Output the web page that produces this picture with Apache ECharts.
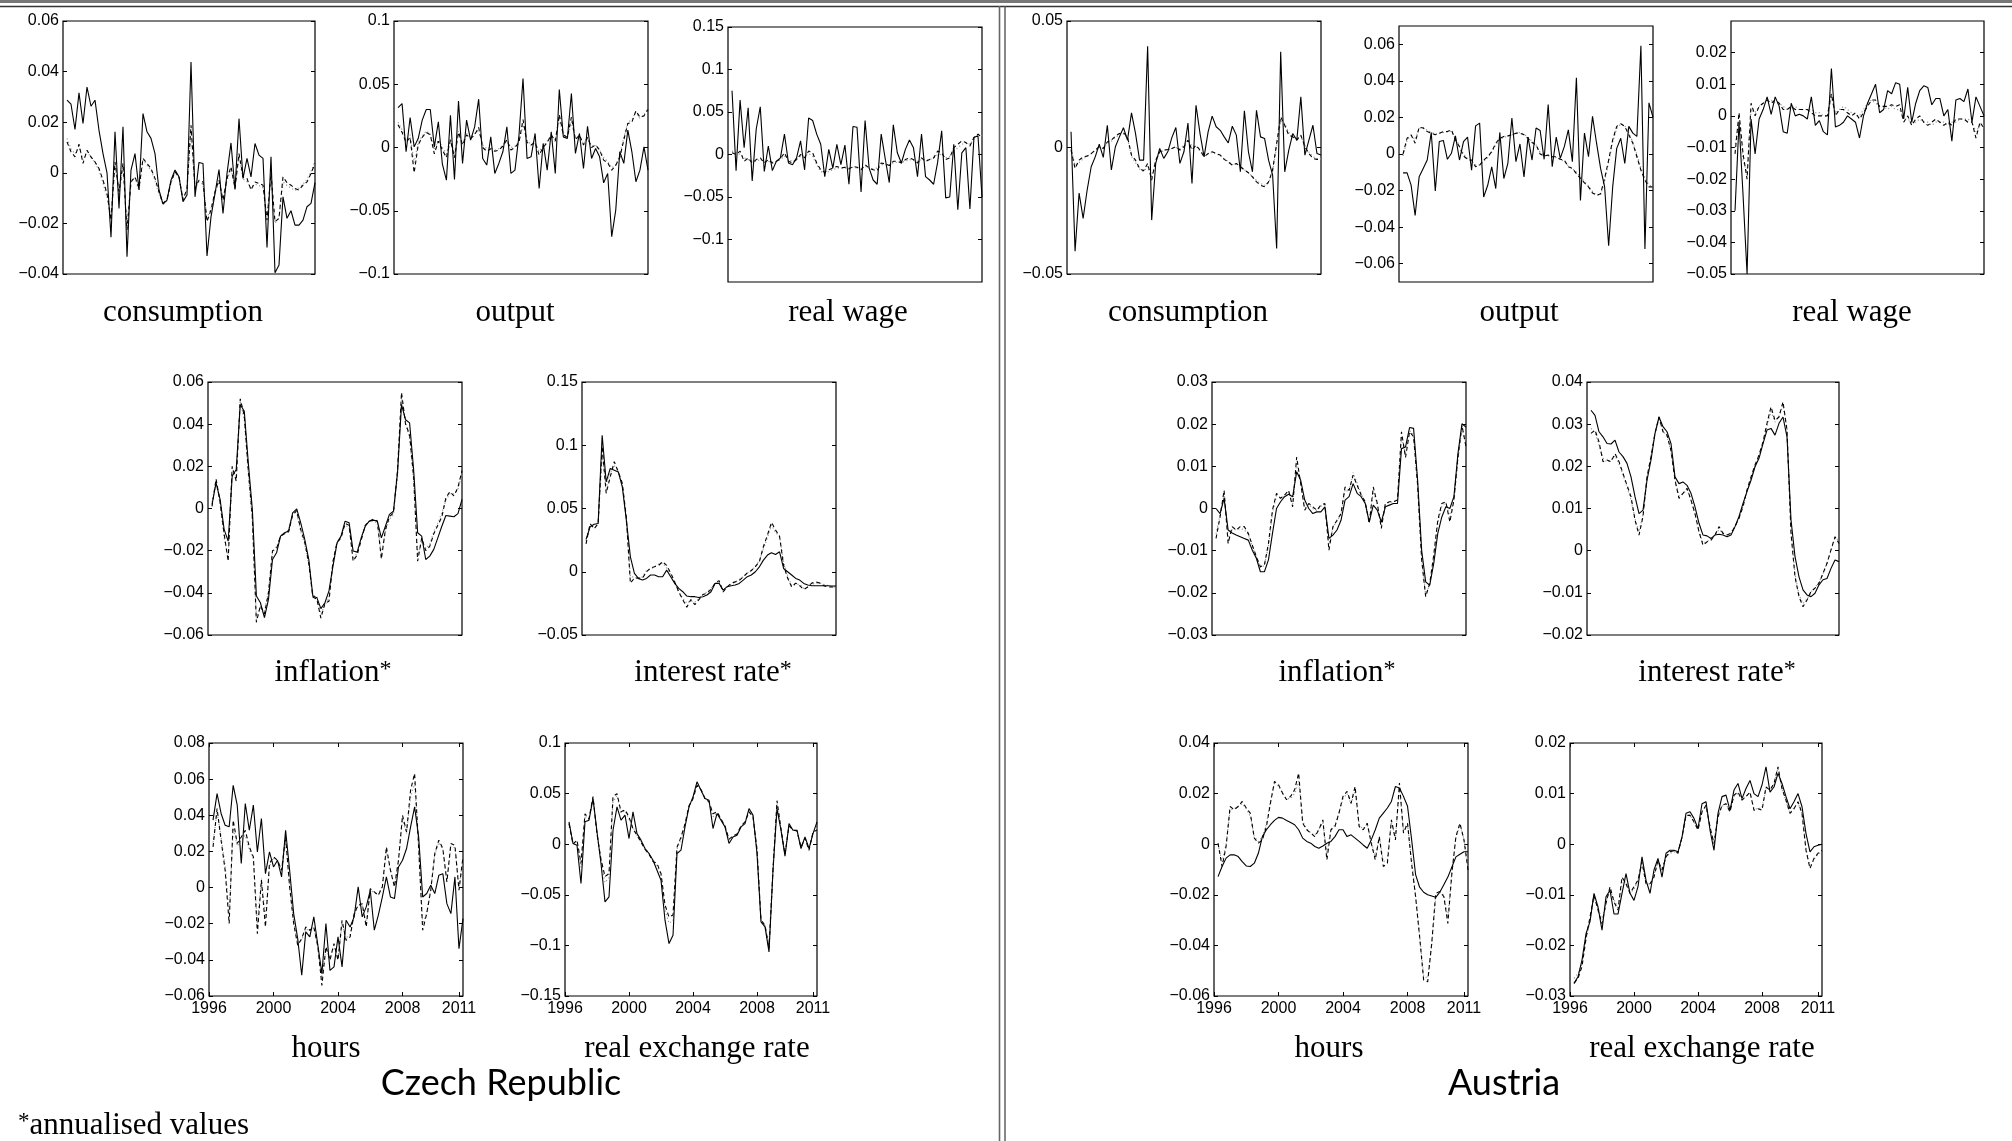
<!DOCTYPE html>
<html>
<head>
<meta charset="utf-8">
<script src="https://cdn.jsdelivr.net/npm/echarts@6/dist/echarts.min.js"></script>
<style>
  html, body { margin: 0; padding: 0; background: #fff; }
  #chart { width: 2012px; height: 1141px; }
</style>
</head>
<body>
<div id="chart"></div>
<script>
// ---- time axis: quarterly observations 1996Q2 .. 2011Q4 ----
const quarters = [];
for (let y = 1996; y <= 2011; y++) {
  for (let q = 1; q <= 4; q++) {
    if (y === 1996 && q === 1) continue;
    quarters.push(y + '-Q' + q);
  }
}
const quarterTime = quarters.map(s => { const p = s.split('-Q'); return +p[0] + (+p[1] - 1) / 4; });
const yearTicks = [1996, 2000, 2004, 2008, 2011.5];
const yearLabels = ['1996', '2000', '2004', '2008', '2011'];

// ---- Czech Republic ----
const czConsObs = [0.0287,0.0271,0.0171,0.0316,0.0195,0.0339,0.0263,0.0287,0.0168,0.0076,0,-0.0255,0.0162,-0.0141,0.0182,-0.0332,0.0011,0.0076,-0.0068,0.0234,0.0162,0.0136,0.0076,-0.0068,-0.0124,-0.0108,-0.0029,0.0011,-0.0016,-0.0114,-0.0088,0.0438,-0.0095,0.0041,0.0037,-0.0329,-0.0174,-0.0082,0.0013,-0.0161,-0.0003,0.0118,-0.0066,0.0214,-0.0022,0.0057,-0.0016,0.0116,0.0070,0.0057,-0.0295,0.0063,-0.0395,-0.0364,-0.0095,-0.0180,-0.0150,-0.0207,-0.0207,-0.0187,-0.0134,-0.0121,-0.0039];
const czConsFitA = [0.0122,0.0083,0.0063,0.0113,0.0037,0.0089,0.0063,0.0043,0.0017,-0.0029,-0.0082,-0.0187,0.0043,-0.0075,0.0037,-0.0226,-0.0036,-0.0016,-0.0062,0.0057,0.0037,0.0017,-0.0022,-0.0075,-0.0121,-0.0105,-0.0036,0.0004,-0.0016,-0.0108,-0.0062,0.0188,-0.0062,-0.0029,-0.0036,-0.0193,-0.0147,-0.0075,-0.0029,-0.0108,-0.0022,0.0024,-0.0062,0.0076,-0.0016,-0.0022,-0.0068,-0.0036,-0.0042,-0.0049,-0.0187,-0.0003,-0.0193,-0.0180,-0.0016,-0.0039,-0.0049,-0.0062,-0.0068,-0.0049,-0.0036,-0.0003,0.0037];
const czConsFitB = [0.0136,0.0095,0.0075,0.0105,0.0050,0.0085,0.0060,0.0040,0.0010,-0.0040,-0.0095,-0.0170,0.0035,-0.0090,0.0025,-0.0215,-0.0030,-0.0020,-0.0070,0.0050,0.0030,0.0010,-0.0030,-0.0085,-0.0125,-0.0110,-0.0040,0.0000,-0.0020,-0.0100,-0.0070,0.0165,-0.0070,-0.0035,-0.0045,-0.0180,-0.0140,-0.0080,-0.0035,-0.0100,-0.0030,0.0015,-0.0055,0.0065,-0.0025,-0.0035,-0.0060,-0.0045,-0.0050,-0.0060,-0.0175,-0.0015,-0.0200,-0.0175,-0.0035,-0.0050,-0.0060,-0.0070,-0.0060,-0.0045,-0.0025,0.0005,0.0045];

const czOutObs = [0.0316,0.0347,-0.0034,0.0237,0.0005,0.0071,0.0216,0.0300,0.0300,0.0005,0.0203,-0.0132,-0.0258,0.0255,-0.0253,0.0368,-0.0126,0.0216,0.0058,0.0163,0.0382,-0.0087,-0.0139,0.0084,-0.0205,-0.0126,-0.0034,0.0163,-0.0205,-0.0179,0.0097,0.0545,-0.0087,-0.0074,0.0111,-0.0324,0.0032,-0.0179,0.0124,-0.0205,0.0458,0.0084,0.0071,0.0426,-0.0047,0.0111,-0.0166,0.0168,-0.0087,-0.0008,-0.0074,-0.0279,-0.0205,-0.0705,-0.0495,-0.0034,-0.0126,0.0137,-0.0034,-0.0271,-0.0179,0.0005,-0.0179];
const czOutFitA = [0.018,0.012,0.004,0.008,-0.020,0.002,0.008,0.012,0.010,-0.005,0.005,-0.002,-0.008,0.006,-0.008,0.012,0.002,0.010,0.007,0.010,0.016,0.000,-0.003,-0.001,-0.003,-0.002,0.001,0.006,-0.002,0.000,0.004,0.022,0.004,0.002,0.004,-0.006,0.000,0.004,0.010,0.005,0.026,0.010,0.008,0.024,0.006,0.010,0.002,0.008,0.000,0.002,-0.002,-0.010,-0.012,-0.018,-0.014,-0.008,0.006,0.019,0.020,0.029,0.024,0.025,0.030];
const czOutFitB = [0.020,0.014,0.006,0.010,-0.012,0.004,0.009,0.013,0.011,-0.002,0.006,0.000,-0.005,0.007,-0.005,0.013,0.003,0.011,0.008,0.011,0.014,0.002,-0.001,0.000,-0.002,-0.001,0.002,0.006,0.000,0.001,0.005,0.018,0.005,0.003,0.004,-0.003,0.001,0.005,0.009,0.006,0.022,0.010,0.008,0.020,0.007,0.009,0.003,0.007,0.001,0.002,-0.002,-0.008,-0.011,-0.016,-0.014,-0.006,0.008,0.020,0.022,0.028,0.023,0.026,0.031];

const czWageObs = [0.075,-0.019,0.064,0.008,0.055,-0.031,0.030,0.056,-0.020,0.010,-0.019,-0.008,-0.004,0.024,-0.010,-0.012,-0.004,0.016,-0.018,0.043,0.040,0.024,0.012,-0.026,0.006,-0.016,0.012,-0.012,0.011,-0.035,0.033,0.032,-0.044,0.040,-0.016,-0.030,-0.035,0.024,-0.005,-0.033,0.035,0.002,-0.010,0.006,0.017,0.008,-0.026,0.024,-0.026,-0.030,-0.035,-0.009,0.028,-0.051,-0.050,0.012,-0.065,0.002,0.008,-0.064,0.020,0.022,-0.050];
const czWageFitA = [0.002,0.000,0.004,-0.008,-0.004,-0.010,-0.006,-0.004,-0.010,-0.006,-0.010,-0.008,-0.005,0.002,-0.008,-0.010,-0.006,0.000,-0.004,0.004,0.002,-0.010,-0.018,-0.021,-0.018,-0.016,-0.014,-0.016,-0.015,-0.017,-0.014,-0.015,-0.018,-0.012,-0.016,-0.018,-0.019,-0.010,-0.011,-0.013,-0.008,-0.008,-0.010,-0.006,-0.004,-0.006,-0.010,-0.004,-0.008,-0.006,-0.004,0.004,0.002,-0.006,-0.004,0.008,0.012,0.016,0.014,0.010,0.020,0.024,0.020];
const czWageFitB = [0.004,0.002,0.000,-0.004,-0.006,-0.008,-0.008,-0.006,-0.008,-0.008,-0.009,-0.008,-0.006,-0.002,-0.006,-0.008,-0.006,-0.002,-0.002,0.001,-0.002,-0.012,-0.020,-0.022,-0.020,-0.018,-0.016,-0.016,-0.016,-0.016,-0.015,-0.016,-0.017,-0.014,-0.016,-0.017,-0.016,-0.012,-0.012,-0.012,-0.010,-0.009,-0.009,-0.008,-0.006,-0.007,-0.008,-0.006,-0.007,-0.006,-0.004,0.000,0.000,-0.004,-0.002,0.004,0.008,0.012,0.014,0.012,0.018,0.024,0.022];

const czInflObs = [0.0019,0.0122,0.0043,-0.0099,-0.0155,0.0153,0.0185,0.0493,0.0461,0.0216,-0.0005,-0.0415,-0.0447,-0.0518,-0.0431,-0.0242,-0.0210,-0.0131,-0.0115,-0.0107,-0.0021,-0.0002,-0.0068,-0.0147,-0.0242,-0.0415,-0.0423,-0.0475,-0.0447,-0.0391,-0.0273,-0.0163,-0.0131,-0.0060,-0.0068,-0.0202,-0.0207,-0.0139,-0.0084,-0.0060,-0.0055,-0.0060,-0.0139,-0.0084,-0.0028,-0.0013,0.0169,0.0493,0.0421,0.0406,0.0185,-0.0115,-0.0131,-0.0242,-0.0226,-0.0194,-0.0139,-0.0084,-0.0033,-0.0036,-0.0039,-0.0024,0.0043];
const czInflFitA = [0.001,0.014,0.003,-0.012,-0.025,0.020,0.013,0.052,0.044,0.018,-0.004,-0.054,-0.046,-0.050,-0.040,-0.020,-0.019,-0.013,-0.012,-0.011,-0.003,-0.001,-0.010,-0.016,-0.026,-0.042,-0.043,-0.052,-0.045,-0.044,-0.025,-0.016,-0.014,-0.007,-0.008,-0.025,-0.022,-0.015,-0.008,-0.006,-0.005,-0.006,-0.024,-0.010,-0.004,-0.002,0.018,0.055,0.040,0.035,0.015,-0.025,-0.014,-0.020,-0.018,-0.012,-0.008,-0.004,0.005,0.008,0.006,0.010,0.018];
const czInflFitB = [0.003,0.013,0.002,-0.014,-0.023,0.018,0.015,0.051,0.042,0.016,-0.006,-0.052,-0.047,-0.049,-0.039,-0.021,-0.018,-0.013,-0.012,-0.010,-0.002,-0.002,-0.011,-0.017,-0.027,-0.041,-0.042,-0.050,-0.046,-0.042,-0.026,-0.017,-0.013,-0.008,-0.009,-0.024,-0.021,-0.014,-0.008,-0.006,-0.006,-0.007,-0.022,-0.011,-0.005,-0.003,0.015,0.053,0.041,0.033,0.013,-0.022,-0.016,-0.019,-0.017,-0.011,-0.007,-0.002,0.004,0.007,0.007,0.009,0.016];

const czRateObs = [0.0255,0.0355,0.0376,0.0382,0.1079,0.0711,0.0816,0.0803,0.0789,0.0671,0.0408,0.0118,-0.0013,-0.0053,-0.0066,-0.0053,-0.0026,-0.0026,-0.0039,-0.0039,0.0013,-0.0039,-0.0092,-0.0132,-0.0158,-0.0192,-0.0197,-0.0197,-0.0203,-0.0197,-0.0184,-0.0158,-0.0092,-0.0092,-0.0145,-0.0118,-0.0111,-0.0105,-0.0092,-0.0066,-0.0039,-0.0026,0.0000,0.0039,0.0092,0.0132,0.0150,0.0137,0.0158,0.0026,0.0000,-0.0026,-0.0053,-0.0066,-0.0092,-0.0105,-0.0111,-0.0111,-0.0111,-0.0111,-0.0111,-0.0113,-0.0113];
const czRateFitA = [0.022,0.038,0.034,0.038,0.099,0.062,0.075,0.087,0.079,0.070,0.043,-0.009,-0.005,-0.005,-0.005,0.000,0.003,0.004,0.005,0.008,0.005,-0.001,-0.008,-0.016,-0.022,-0.028,-0.022,-0.026,-0.022,-0.018,-0.017,-0.014,-0.009,-0.007,-0.016,-0.012,-0.009,-0.008,-0.007,-0.004,-0.001,0.001,0.004,0.008,0.020,0.029,0.039,0.033,0.028,0.005,-0.005,-0.012,-0.009,-0.011,-0.014,-0.012,-0.009,-0.008,-0.009,-0.011,-0.012,-0.012,-0.012];
const czRateFitB = [0.024,0.036,0.036,0.037,0.092,0.066,0.078,0.084,0.080,0.068,0.040,-0.004,-0.004,-0.006,-0.004,0.001,0.002,0.004,0.006,0.007,0.003,-0.002,-0.009,-0.016,-0.021,-0.025,-0.023,-0.024,-0.021,-0.018,-0.016,-0.013,-0.010,-0.008,-0.015,-0.012,-0.010,-0.008,-0.006,-0.004,-0.001,0.001,0.004,0.009,0.018,0.027,0.037,0.031,0.028,0.008,-0.003,-0.011,-0.010,-0.010,-0.013,-0.012,-0.010,-0.009,-0.009,-0.010,-0.011,-0.012,-0.012];

const czHoursObs = [0.0373,0.0520,0.0410,0.0345,0.0336,0.0566,0.0456,0.0133,0.0465,0.0317,0.0456,0.0197,0.0382,0.0077,0.0197,0.0114,0.0151,0.0059,0.0317,0.0096,-0.0144,-0.0282,-0.0485,-0.0245,-0.0273,-0.0162,-0.0319,-0.0476,-0.0199,-0.0458,-0.0439,-0.0273,-0.0439,-0.0181,-0.0218,-0.0162,0.0004,-0.0162,-0.0107,-0.0015,-0.0236,-0.0153,-0.0052,0.0059,-0.0052,-0.0061,0.0114,0.0151,0.0216,0.0336,0.0446,0.0280,-0.0052,-0.0033,0.0013,-0.0033,0.0068,0.0077,-0.0089,-0.0144,0.0059,-0.0338,-0.0172];
const czHoursFitA = [0.0225,0.0437,0.0262,0.0096,-0.0199,0.0373,0.0244,0.0280,0.0317,0.0225,0.0170,-0.0255,0.0041,-0.0218,0.0133,0.0170,0.0151,0.0096,0.0280,0.0004,-0.0199,-0.0319,-0.0282,-0.0218,-0.0236,-0.0218,-0.0328,-0.0541,-0.0328,-0.0402,-0.0310,-0.0402,-0.0181,-0.0292,-0.0273,-0.0144,-0.0098,-0.0089,-0.0218,-0.0006,-0.0024,-0.0042,0.0004,0.0225,0.0096,0.0004,0.0151,0.0400,0.0308,0.0539,0.0631,0.0225,-0.0236,-0.0144,-0.0015,0.0188,0.0262,0.0216,0.0031,0.0244,0.0234,-0.0015,0.0170];
const czHoursFitB = [0.0250,0.0420,0.0280,0.0120,-0.0150,0.0330,0.0230,0.0260,0.0290,0.0210,0.0160,-0.0200,0.0050,-0.0170,0.0120,0.0160,0.0150,0.0100,0.0260,0.0010,-0.0190,-0.0310,-0.0290,-0.0230,-0.0240,-0.0220,-0.0320,-0.0500,-0.0340,-0.0390,-0.0320,-0.0390,-0.0200,-0.0280,-0.0260,-0.0150,-0.0100,-0.0095,-0.0200,-0.0015,-0.0030,-0.0040,0.0010,0.0200,0.0100,0.0010,0.0150,0.0380,0.0300,0.0500,0.0580,0.0210,-0.0200,-0.0140,-0.0010,0.0180,0.0250,0.0210,0.0040,0.0230,0.0220,0.0000,0.0160];

const czRerObs = [0.0221,0.0007,-0.0010,-0.0389,0.0221,0.0237,0.0451,0.0122,-0.0191,-0.0570,-0.0520,0.0138,0.0369,0.0237,0.0287,0.0056,0.0320,0.0105,0.0040,-0.0043,-0.0092,-0.0158,-0.0257,-0.0356,-0.0751,-0.0982,-0.0899,-0.0092,-0.0059,0.0171,0.0369,0.0468,0.0616,0.0534,0.0451,0.0435,0.0155,0.0303,0.0237,0.0171,0.0007,0.0072,0.0089,0.0171,0.0204,0.0352,0.0287,-0.0092,-0.0767,-0.0817,-0.1064,-0.0257,0.0352,0.0138,-0.0119,0.0204,0.0138,0.0138,-0.0043,0.0072,-0.0043,0.0105,0.0221];
const czRerFitA = [0.0200,0.0000,0.0040,-0.0190,0.0300,0.0250,0.0470,0.0100,-0.0150,-0.0320,-0.0290,0.0470,0.0500,0.0320,0.0340,0.0270,0.0150,0.0090,0.0020,-0.0050,-0.0100,-0.0170,-0.0190,-0.0290,-0.0600,-0.0720,-0.0700,-0.0030,0.0070,0.0200,0.0380,0.0450,0.0580,0.0540,0.0450,0.0420,0.0300,0.0320,0.0250,0.0180,0.0050,0.0080,0.0100,0.0180,0.0220,0.0320,0.0270,-0.0050,-0.0750,-0.0800,-0.1030,-0.0250,0.0430,0.0150,-0.0100,0.0180,0.0140,0.0130,-0.0030,0.0060,-0.0060,0.0120,0.0140];
const czRerFitB = [0.0210,0.0010,0.0030,-0.0230,0.0280,0.0240,0.0460,0.0110,-0.0170,-0.0380,-0.0330,0.0420,0.0480,0.0310,0.0330,0.0250,0.0170,0.0090,0.0030,-0.0040,-0.0090,-0.0160,-0.0210,-0.0310,-0.0650,-0.0780,-0.0760,-0.0050,0.0050,0.0190,0.0370,0.0450,0.0590,0.0530,0.0450,0.0420,0.0270,0.0310,0.0240,0.0180,0.0040,0.0080,0.0095,0.0175,0.0210,0.0330,0.0275,-0.0060,-0.0750,-0.0800,-0.1000,-0.0240,0.0400,0.0145,-0.0105,0.0185,0.0140,0.0135,-0.0035,0.0065,-0.0050,0.0115,0.0160];

// ---- Austria ----
const atConsObs = [0.0062,-0.0410,-0.0180,-0.0280,-0.0168,-0.0076,-0.0037,0.0013,-0.0039,0.0088,-0.0089,0.0003,0.0042,0.0078,0.0029,0.0137,0.0055,-0.0050,-0.0050,0.0400,-0.0287,-0.0063,-0.0004,-0.0043,-0.0017,0.0039,0.0079,-0.0063,-0.0017,0.0097,-0.0142,0.0167,0.0055,-0.0037,0.0062,0.0124,0.0082,0.0068,0.0042,0.0018,0.0084,0.0049,-0.0096,0.0145,-0.0017,-0.0096,0.0147,0.0042,0.0036,-0.0050,-0.0109,-0.0399,0.0378,-0.0096,-0.0011,0.0055,0.0029,0.0200,-0.0030,0.0029,0.0088,-0.0024,-0.0030];
const atConsFitA = [-0.0010,-0.0083,-0.0050,-0.0037,-0.0034,-0.0024,-0.0010,0.0003,-0.0004,0.0022,0.0029,0.0045,0.0055,0.0058,0.0042,-0.0030,-0.0050,-0.0083,-0.0092,-0.0063,-0.0129,-0.0050,-0.0017,-0.0010,-0.0008,-0.0004,0.0003,-0.0010,0.0003,0.0029,-0.0010,0.0009,-0.0010,-0.0037,-0.0024,-0.0017,-0.0024,-0.0030,-0.0047,-0.0057,-0.0070,-0.0063,-0.0076,-0.0089,-0.0100,-0.0116,-0.0136,-0.0149,-0.0155,-0.0136,-0.0089,0.0016,0.0121,0.0088,0.0049,0.0042,0.0029,0.0049,0.0003,-0.0024,-0.0043,-0.0047,-0.0047];
const atConsFitB = [-0.0005,-0.0070,-0.0060,-0.0045,-0.0035,-0.0025,-0.0012,0.0000,0.0000,0.0015,0.0025,0.0040,0.0050,0.0055,0.0035,-0.0035,-0.0060,-0.0085,-0.0095,-0.0075,-0.0115,-0.0055,-0.0020,-0.0012,-0.0010,-0.0005,0.0000,-0.0005,0.0010,0.0030,0.0005,0.0005,-0.0015,-0.0030,-0.0025,-0.0020,-0.0025,-0.0032,-0.0045,-0.0055,-0.0068,-0.0065,-0.0075,-0.0088,-0.0100,-0.0115,-0.0130,-0.0142,-0.0150,-0.0140,-0.0095,0.0005,0.0105,0.0095,0.0060,0.0045,0.0035,0.0045,0.0010,-0.0018,-0.0035,-0.0045,-0.0045];

const atOutObs = [-0.0103,-0.0103,-0.0170,-0.0336,-0.0125,-0.0079,-0.0033,0.0118,-0.0202,0.0068,0.0074,-0.0029,0.0004,0.0099,-0.0033,0.0068,0.0092,-0.0088,0.0154,0.0169,-0.0235,-0.0171,-0.0070,-0.0189,0.0118,-0.0134,-0.0051,0.0197,-0.0042,0.0055,-0.0125,0.0092,-0.0033,0.0142,0.0129,-0.0029,0.0270,-0.0070,0.0092,-0.0024,0.0040,0.0132,-0.0042,0.0417,-0.0254,0.0114,-0.0015,0.0206,0.0059,-0.0079,-0.0180,-0.0502,-0.0180,0.0031,0.0086,-0.0051,0.0151,0.0114,0.0096,0.0592,-0.0520,0.0280,0.0200];
const atOutFitA = [0.0000,0.0086,0.0105,0.0059,0.0147,0.0142,0.0123,0.0114,0.0105,0.0114,0.0123,0.0123,0.0132,0.0077,0.0040,-0.0011,-0.0029,-0.0033,-0.0070,-0.0061,-0.0033,-0.0015,0.0013,0.0059,0.0086,0.0096,0.0099,0.0105,0.0114,0.0114,0.0105,0.0086,0.0063,0.0050,0.0000,-0.0011,-0.0006,-0.0015,-0.0015,-0.0029,-0.0033,-0.0070,-0.0079,-0.0107,-0.0134,-0.0158,-0.0180,-0.0213,-0.0226,-0.0217,-0.0134,-0.0033,0.0077,0.0151,0.0165,0.0151,0.0105,0.0059,-0.0015,-0.0088,-0.0143,-0.0180,-0.0180];
const atOutFitB = [-0.0010,0.0075,0.0100,0.0080,0.0140,0.0145,0.0130,0.0118,0.0110,0.0112,0.0118,0.0120,0.0125,0.0085,0.0045,0.0000,-0.0025,-0.0040,-0.0060,-0.0060,-0.0040,-0.0020,0.0010,0.0050,0.0080,0.0090,0.0098,0.0105,0.0112,0.0118,0.0110,0.0090,0.0070,0.0050,0.0010,-0.0008,-0.0010,-0.0015,-0.0020,-0.0030,-0.0040,-0.0065,-0.0080,-0.0100,-0.0125,-0.0150,-0.0175,-0.0205,-0.0225,-0.0225,-0.0150,-0.0045,0.0065,0.0140,0.0165,0.0155,0.0115,0.0065,0.0000,-0.0075,-0.0130,-0.0170,-0.0175];

const atWageObs = [-0.030,-0.002,-0.025,-0.050,-0.001,-0.012,-0.001,0.002,0.006,0.0005,0.006,0.003,-0.005,-0.0055,0.004,0.000,0.0005,0.000,-0.001,0.006,-0.003,-0.0015,-0.005,-0.006,0.015,-0.0035,-0.003,-0.002,0.000,-0.001,-0.002,-0.007,0.000,0.004,0.007,0.010,0.001,0.002,0.008,0.007,0.0105,0.010,-0.001,0.009,-0.002,0.004,0.008,0.0095,0.009,0.0035,0.0055,0.0055,0.000,0.002,-0.008,0.005,0.0055,0.0045,0.0085,-0.002,0.006,0.003,0.000];
const atWageFitA = [-0.012,0.001,-0.012,-0.020,0.004,0.000,0.003,0.004,0.005,0.004,0.005,0.004,0.002,0.002,0.003,0.002,0.002,0.002,0.002,0.001,0.000,0.000,0.000,0.000,0.007,0.000,0.002,0.002,0.001,0.000,0.001,-0.001,0.001,0.003,0.005,0.005,0.003,0.003,0.003,0.0035,0.003,0.0035,-0.002,0.000,-0.003,-0.001,0.000,-0.002,-0.003,-0.002,-0.001,-0.002,-0.003,-0.002,-0.003,-0.001,-0.001,-0.001,-0.002,-0.002,-0.007,-0.002,-0.004];
const atWageFitB = [-0.010,0.000,-0.014,-0.018,0.002,0.001,0.003,0.004,0.005,0.005,0.004,0.004,0.003,0.002,0.003,0.003,0.002,0.002,0.002,0.002,0.001,0.001,0.000,0.000,0.006,0.001,0.002,0.003,0.002,0.001,0.000,0.000,0.002,0.004,0.005,0.004,0.003,0.003,0.002,0.003,0.002,0.002,-0.001,-0.001,-0.002,-0.002,-0.001,-0.002,-0.002,-0.003,-0.002,-0.002,-0.002,-0.003,-0.002,-0.002,-0.001,-0.001,-0.001,-0.002,-0.005,-0.003,-0.003];

const atInflObs = [0.0000,-0.0012,0.0024,-0.0051,-0.0058,-0.0063,-0.0067,-0.0071,-0.0075,-0.0099,-0.0118,-0.0150,-0.0150,-0.0122,-0.0059,0.0000,0.0016,0.0028,0.0034,0.0028,0.0087,0.0067,0.0020,0.0000,-0.0012,-0.0008,-0.0008,0.0004,-0.0071,-0.0063,-0.0051,-0.0028,0.0020,0.0028,0.0059,0.0036,0.0028,0.0012,-0.0032,0.0008,-0.0004,-0.0032,0.0004,0.0008,0.0012,0.0012,0.0142,0.0146,0.0192,0.0190,0.0067,-0.0099,-0.0174,-0.0182,-0.0130,-0.0059,-0.0020,0.0004,0.0000,0.0028,0.0130,0.0201,0.0193];
const atInflFitA = [-0.0071,-0.0020,0.0043,-0.0083,-0.0043,-0.0051,-0.0043,-0.0043,-0.0059,-0.0087,-0.0114,-0.0138,-0.0134,-0.0083,-0.0004,0.0036,0.0024,0.0032,0.0043,0.0004,0.0122,0.0059,-0.0004,0.0012,0.0004,-0.0004,0.0008,0.0012,-0.0099,-0.0043,-0.0028,-0.0012,0.0051,0.0043,0.0079,0.0055,0.0032,0.0016,-0.0036,0.0051,0.0012,-0.0047,0.0012,0.0016,0.0016,0.0020,0.0182,0.0121,0.0182,0.0170,0.0055,-0.0122,-0.0209,-0.0178,-0.0110,-0.0028,0.0012,0.0016,-0.0032,0.0020,0.0122,0.0197,0.0146];
const atInflFitB = [-0.0060,-0.0015,0.0035,-0.0070,-0.0050,-0.0050,-0.0048,-0.0050,-0.0062,-0.0090,-0.0115,-0.0140,-0.0135,-0.0090,-0.0010,0.0030,0.0025,0.0030,0.0040,0.0010,0.0110,0.0060,0.0000,0.0010,0.0000,-0.0005,0.0005,0.0010,-0.0085,-0.0045,-0.0030,-0.0015,0.0045,0.0040,0.0085,0.0060,0.0035,0.0015,-0.0030,0.0040,0.0010,-0.0040,0.0010,0.0015,0.0015,0.0020,0.0170,0.0130,0.0185,0.0175,0.0060,-0.0115,-0.0205,-0.0180,-0.0115,-0.0035,0.0005,0.0015,-0.0020,0.0020,0.0115,0.0190,0.0155];

const atRateObs = [0.0333,0.0321,0.0282,0.0270,0.0254,0.0253,0.0262,0.0234,0.0223,0.0207,0.0175,0.0128,0.0088,0.0096,0.0167,0.0215,0.0278,0.0317,0.0294,0.0282,0.0254,0.0175,0.0159,0.0163,0.0155,0.0136,0.0104,0.0065,0.0037,0.0035,0.0029,0.0037,0.0039,0.0037,0.0033,0.0037,0.0057,0.0081,0.0112,0.0140,0.0167,0.0199,0.0219,0.0254,0.0286,0.0290,0.0274,0.0302,0.0317,0.0270,0.0073,-0.0014,-0.0062,-0.0093,-0.0105,-0.0109,-0.0101,-0.0081,-0.0069,-0.0066,-0.0042,-0.0022,-0.0026];
const atRateFitA = [0.0278,0.0286,0.0258,0.0211,0.0215,0.0211,0.0230,0.0211,0.0183,0.0155,0.0128,0.0073,0.0037,0.0081,0.0175,0.0223,0.0278,0.0317,0.0282,0.0274,0.0238,0.0167,0.0124,0.0136,0.0148,0.0120,0.0088,0.0045,0.0013,0.0021,0.0025,0.0037,0.0057,0.0041,0.0037,0.0041,0.0057,0.0077,0.0104,0.0144,0.0175,0.0203,0.0227,0.0258,0.0302,0.0341,0.0309,0.0317,0.0353,0.0286,0.0041,-0.0062,-0.0109,-0.0133,-0.0117,-0.0097,-0.0089,-0.0077,-0.0054,-0.0030,0.0002,0.0033,0.0017];
const atRateFitB = [0.0290,0.0280,0.0250,0.0220,0.0210,0.0215,0.0225,0.0205,0.0180,0.0150,0.0120,0.0075,0.0045,0.0085,0.0170,0.0225,0.0280,0.0310,0.0285,0.0270,0.0235,0.0170,0.0130,0.0135,0.0145,0.0120,0.0085,0.0045,0.0018,0.0022,0.0028,0.0038,0.0050,0.0042,0.0038,0.0042,0.0058,0.0078,0.0105,0.0140,0.0172,0.0200,0.0225,0.0255,0.0295,0.0330,0.0305,0.0320,0.0345,0.0290,0.0050,-0.0055,-0.0105,-0.0125,-0.0115,-0.0098,-0.0088,-0.0075,-0.0055,-0.0030,0.0000,0.0030,0.0025];

const atHoursObs = [-0.0128,-0.0088,-0.0055,-0.0042,-0.0042,-0.0049,-0.0069,-0.0086,-0.0088,-0.0075,-0.0036,0.0030,0.0057,0.0077,0.0094,0.0106,0.0103,0.0094,0.0086,0.0077,0.0057,0.0024,0.0011,0.0004,-0.0009,-0.0016,-0.0007,0.0004,0.0011,0.0030,0.0057,0.0057,0.0030,0.0037,0.0024,0.0011,-0.0003,-0.0016,0.0017,0.0057,0.0103,0.0123,0.0143,0.0169,0.0228,0.0222,0.0189,0.0150,0.0020,-0.0120,-0.0170,-0.0190,-0.0200,-0.0205,-0.0210,-0.0190,-0.0160,-0.0130,-0.0090,-0.0050,-0.0040,-0.0030,-0.0030];
const atHoursFitA = [0.0004,-0.0088,-0.0009,0.0149,0.0136,0.0149,0.0169,0.0143,0.0123,0.0024,0.0004,0.0017,0.0070,0.0162,0.0248,0.0235,0.0202,0.0176,0.0189,0.0215,0.0281,0.0083,0.0057,0.0044,0.0030,0.0057,0.0096,-0.0062,0.0057,0.0070,0.0123,0.0189,0.0209,0.0162,0.0228,0.0070,0.0057,0.0083,0.0004,-0.0062,0.0030,-0.0088,-0.0075,0.0096,0.0017,0.0242,0.0044,0.0083,-0.0075,-0.0207,-0.0366,-0.0537,-0.0544,-0.0392,-0.0194,-0.0187,-0.0207,-0.0313,-0.0115,0.0030,0.0083,0.0017,-0.0102];
const atHoursFitB = [0.0000,-0.0070,0.0000,0.0135,0.0140,0.0150,0.0160,0.0140,0.0110,0.0030,0.0010,0.0030,0.0080,0.0170,0.0240,0.0230,0.0200,0.0180,0.0180,0.0200,0.0250,0.0090,0.0060,0.0045,0.0035,0.0060,0.0085,-0.0040,0.0060,0.0075,0.0125,0.0180,0.0200,0.0160,0.0210,0.0075,0.0060,0.0080,0.0010,-0.0050,0.0030,-0.0070,-0.0060,0.0090,0.0025,0.0220,0.0055,0.0080,-0.0060,-0.0200,-0.0360,-0.0520,-0.0530,-0.0400,-0.0210,-0.0190,-0.0200,-0.0290,-0.0110,0.0025,0.0075,0.0020,-0.0080];

const atRerObs = [-0.0275,-0.0262,-0.0229,-0.0177,-0.0153,-0.0097,-0.0124,-0.0170,-0.0104,-0.0091,-0.0138,-0.0138,-0.0097,-0.0058,-0.0097,-0.0111,-0.0084,-0.0025,-0.0071,-0.0097,-0.0051,-0.0028,-0.0065,-0.0018,-0.0012,-0.0012,-0.0015,0.0014,0.0061,0.0064,0.0051,0.0031,0.0080,0.0084,0.0028,-0.0012,0.0061,0.0094,0.0097,0.0067,0.0107,0.0120,0.0090,0.0110,0.0126,0.0100,0.0094,0.0117,0.0153,0.0103,0.0113,0.0140,0.0120,0.0094,0.0070,0.0084,0.0100,0.0074,0.0021,-0.0015,-0.0005,-0.0002,0.0000];
const atRerFitA = [-0.0275,-0.0265,-0.0242,-0.0186,-0.0144,-0.0101,-0.0130,-0.0157,-0.0117,-0.0084,-0.0114,-0.0130,-0.0065,-0.0078,-0.0097,-0.0084,-0.0071,-0.0035,-0.0078,-0.0078,-0.0065,-0.0032,-0.0051,-0.0025,-0.0015,-0.0013,-0.0018,0.0014,0.0057,0.0057,0.0044,0.0028,0.0064,0.0077,0.0034,0.0001,0.0054,0.0077,0.0080,0.0064,0.0097,0.0103,0.0087,0.0094,0.0103,0.0067,0.0070,0.0067,0.0113,0.0107,0.0120,0.0153,0.0110,0.0087,0.0061,0.0070,0.0084,0.0061,-0.0012,-0.0048,-0.0028,-0.0018,-0.0012];
const atRerFitB = [-0.0265,-0.0255,-0.0235,-0.0190,-0.0150,-0.0105,-0.0125,-0.0150,-0.0115,-0.0090,-0.0110,-0.0125,-0.0075,-0.0075,-0.0095,-0.0090,-0.0070,-0.0040,-0.0075,-0.0080,-0.0060,-0.0035,-0.0050,-0.0025,-0.0018,-0.0015,-0.0015,0.0012,0.0055,0.0058,0.0045,0.0030,0.0065,0.0075,0.0035,0.0005,0.0055,0.0075,0.0080,0.0065,0.0095,0.0100,0.0088,0.0095,0.0100,0.0070,0.0070,0.0072,0.0110,0.0108,0.0118,0.0150,0.0108,0.0085,0.0062,0.0072,0.0082,0.0060,-0.0008,-0.0045,-0.0030,-0.0020,-0.0015];

// ---- vertical axis ticks per panel ----
const ticksCons = [-0.04, -0.02, 0, 0.02, 0.04, 0.06];
const ticksOut = [-0.1, -0.05, 0, 0.05, 0.1];
const ticksWageCz = [-0.1, -0.05, 0, 0.05, 0.1, 0.15];
const ticksConsAt = [-0.05, 0, 0.05];
const ticksOutAt = [-0.06, -0.04, -0.02, 0, 0.02, 0.04, 0.06];
const ticksWageAt = [-0.05, -0.04, -0.03, -0.02, -0.01, 0, 0.01, 0.02];
const ticksInflCz = [-0.06, -0.04, -0.02, 0, 0.02, 0.04, 0.06];
const ticksRateCz = [-0.05, 0, 0.05, 0.1, 0.15];
const ticksInflAt = [-0.03, -0.02, -0.01, 0, 0.01, 0.02, 0.03];
const ticksRateAt = [-0.02, -0.01, 0, 0.01, 0.02, 0.03, 0.04];
const ticksHoursCz = [-0.06, -0.04, -0.02, 0, 0.02, 0.04, 0.06, 0.08];
const ticksRerCz = [-0.15, -0.1, -0.05, 0, 0.05, 0.1];
const ticksHoursAt = [-0.06, -0.04, -0.02, 0, 0.02, 0.04];
const ticksRerAt = [-0.03, -0.02, -0.01, 0, 0.01, 0.02];

// panel layout: [left, top, width, height] in px
const panels = [
  { box: [63, 21, 252, 253],   y: [-0.04, 0.06],  ticks: ticksCons,    series: [czConsObs, czConsFitA, czConsFitB],   years: false, caption: 'consumption', cx: 183, cy: 313 },
  { box: [394, 21, 254, 253],  y: [-0.1, 0.1],    ticks: ticksOut,     series: [czOutObs, czOutFitA, czOutFitB],      years: false, caption: 'output', cx: 515, cy: 313 },
  { box: [728, 27, 254, 255],  y: [-0.15, 0.15],  ticks: ticksWageCz,  series: [czWageObs, czWageFitA, czWageFitB],   years: false, caption: 'real wage', cx: 848, cy: 313 },
  { box: [1067, 21, 254, 253], y: [-0.05, 0.05],  ticks: ticksConsAt,  series: [atConsObs, atConsFitA, atConsFitB],   years: false, caption: 'consumption', cx: 1188, cy: 313 },
  { box: [1399, 26, 254, 256], y: [-0.07, 0.07],  ticks: ticksOutAt,   series: [atOutObs, atOutFitA, atOutFitB],      years: false, caption: 'output', cx: 1519, cy: 313 },
  { box: [1731, 21, 253, 253], y: [-0.05, 0.03],  ticks: ticksWageAt,  series: [atWageObs, atWageFitA, atWageFitB],   years: false, caption: 'real wage', cx: 1852, cy: 313 },
  { box: [208, 382, 254, 253], y: [-0.06, 0.06],  ticks: ticksInflCz,  series: [czInflObs, czInflFitA, czInflFitB],   years: false, caption: 'inflation', star: true, cx: 333, cy: 673 },
  { box: [582, 382, 254, 253], y: [-0.05, 0.15],  ticks: ticksRateCz,  series: [czRateObs, czRateFitA, czRateFitB],   years: false, caption: 'interest rate', star: true, cx: 713, cy: 673 },
  { box: [1212, 382, 254, 253], y: [-0.03, 0.03], ticks: ticksInflAt,  series: [atInflObs, atInflFitA, atInflFitB],   years: false, caption: 'inflation', star: true, cx: 1337, cy: 673 },
  { box: [1587, 382, 252, 253], y: [-0.02, 0.04], ticks: ticksRateAt,  series: [atRateObs, atRateFitA, atRateFitB],   years: false, caption: 'interest rate', star: true, cx: 1717, cy: 673 },
  { box: [209, 743, 254, 253], y: [-0.06, 0.08],  ticks: ticksHoursCz, series: [czHoursObs, czHoursFitA, czHoursFitB], years: true, caption: 'hours', cx: 326, cy: 1049 },
  { box: [565, 743, 252, 253], y: [-0.15, 0.1],   ticks: ticksRerCz,   series: [czRerObs, czRerFitA, czRerFitB],      years: true, caption: 'real exchange rate', cx: 697, cy: 1049 },
  { box: [1214, 743, 254, 253], y: [-0.06, 0.04], ticks: ticksHoursAt, series: [atHoursObs, atHoursFitA, atHoursFitB], years: true, caption: 'hours', cx: 1329, cy: 1049 },
  { box: [1570, 743, 252, 253], y: [-0.03, 0.02], ticks: ticksRerAt,   series: [atRerObs, atRerFitA, atRerFitB],      years: true, caption: 'real exchange rate', cx: 1702, cy: 1049 }
];

const SANS = '"Liberation Sans", Arial, sans-serif';
const SERIF = '"Liberation Serif", "Times New Roman", serif';
const TICK_FONT = 16;
const CAPTION_FONT = 31;

function tickLabel(v) {
  if (Math.abs(v) < 1e-9) return '0';
  return (v < 0 ? '\u2212' : '') + String(+Math.abs(v).toFixed(3));
}

const grid = [], xAxis = [], yAxis = [], series = [], graphic = [];
const lineStyles = [
  { color: '#000', width: 1.1, type: 'solid' },
  { color: '#000', width: 1.1, type: [4, 3] },
  { color: '#9c9c9c', width: 1.2, type: [1.2, 2.4] }
];

panels.forEach((p, i) => {
  const [l, t, w, h] = p.box;
  grid.push({ left: l, top: t, width: w, height: h, show: true, borderColor: '#000', borderWidth: 1.2, backgroundColor: 'transparent' });
  const xBase = {
    type: 'value', gridIndex: i, min: 1996, max: 2011.75,
    axisLine: { show: false, onZero: false }, splitLine: { show: false }
  };
  xAxis.push(Object.assign({}, xBase, {
    position: 'bottom',
    axisTick: { show: p.years, inside: true, length: 4, customValues: yearTicks, lineStyle: { color: '#000', width: 1 } },
    axisLabel: {
      show: p.years, customValues: yearTicks, margin: 5,
      formatter: v => { const k = yearTicks.indexOf(v); return k >= 0 ? yearLabels[k] : ''; },
      fontFamily: SANS, fontSize: TICK_FONT, color: '#000'
    }
  }));
  xAxis.push(Object.assign({}, xBase, {
    position: 'top',
    axisTick: { show: p.years, inside: true, length: 4, customValues: yearTicks, lineStyle: { color: '#000', width: 1 } },
    axisLabel: { show: false }
  }));
  const yBase = {
    type: 'value', gridIndex: i, min: p.y[0], max: p.y[1],
    axisLine: { show: false, onZero: false }, splitLine: { show: false }
  };
  yAxis.push(Object.assign({}, yBase, {
    position: 'left',
    axisTick: { show: true, inside: true, length: 4, customValues: p.ticks, lineStyle: { color: '#000', width: 1 } },
    axisLabel: { customValues: p.ticks, formatter: tickLabel, margin: 4, fontFamily: SANS, fontSize: TICK_FONT, color: '#000' }
  }));
  yAxis.push(Object.assign({}, yBase, {
    position: 'right',
    axisTick: { show: true, inside: true, length: 4, customValues: p.ticks, lineStyle: { color: '#000', width: 1 } },
    axisLabel: { show: false }
  }));
  // draw the light dotted line first, the observed series on top
  [2, 1, 0].forEach(k => {
    series.push({
      type: 'line', xAxisIndex: 2 * i, yAxisIndex: 2 * i,
      data: p.series[k].map((v, j) => [quarterTime[j], v]),
      showSymbol: false, symbol: 'none', clip: true,
      lineStyle: lineStyles[k], z: 3 - k, silent: true
    });
  });
  // panel caption
  if (p.star) {
    graphic.push({
      type: 'text', x: p.cx, y: p.cy,
      style: {
        text: '{a|' + p.caption + '}{s|*}',
        align: 'center', verticalAlign: 'middle', textAlign: 'center', textVerticalAlign: 'middle',
        rich: {
          a: { fontFamily: SERIF, fontSize: CAPTION_FONT, fill: '#000' },
          s: { fontFamily: SERIF, fontSize: 24, fill: '#000', verticalAlign: 'top' }
        }
      }
    });
  } else {
    graphic.push({
      type: 'text', x: p.cx, y: p.cy,
      style: {
        text: p.caption, fontFamily: SERIF, fontSize: CAPTION_FONT, fill: '#000',
        align: 'center', verticalAlign: 'middle', textAlign: 'center', textVerticalAlign: 'middle'
      }
    });
  }
});

// country headings and footnote
graphic.push({
  type: 'text', x: 501, y: 1083,
  style: { text: 'Czech Republic', fontFamily: 'Lato, "Liberation Sans", sans-serif', fontSize: 36, fill: '#000', align: 'center', verticalAlign: 'middle', textAlign: 'center', textVerticalAlign: 'middle' }
});
graphic.push({
  type: 'text', x: 1504, y: 1083,
  style: { text: 'Austria', fontFamily: 'Lato, "Liberation Sans", sans-serif', fontSize: 36, fill: '#000', align: 'center', verticalAlign: 'middle', textAlign: 'center', textVerticalAlign: 'middle' }
});
graphic.push({
  type: 'text', x: 18, y: 1126,
  style: {
    text: '{s|*}{a|annualised values}',
    align: 'left', verticalAlign: 'middle', textAlign: 'left', textVerticalAlign: 'middle',
    rich: {
      s: { fontFamily: SERIF, fontSize: 23, fill: '#000', verticalAlign: 'top' },
      a: { fontFamily: SERIF, fontSize: 31, fill: '#000' }
    }
  }
});

// page rules: double line along the top and a double divider between the countries
graphic.push({ type: 'line', shape: { x1: 0, y1: 1.5, x2: 2012, y2: 1.5 }, style: { stroke: '#777', lineWidth: 3 } });
graphic.push({ type: 'line', shape: { x1: 0, y1: 6.5, x2: 2012, y2: 6.5 }, style: { stroke: '#333', lineWidth: 1.3 } });
graphic.push({ type: 'line', shape: { x1: 999.5, y1: 6, x2: 999.5, y2: 1141 }, style: { stroke: '#666', lineWidth: 1.6 } });
graphic.push({ type: 'line', shape: { x1: 1005, y1: 6, x2: 1005, y2: 1141 }, style: { stroke: '#555', lineWidth: 1.4 } });

const chart = echarts.init(document.getElementById('chart'), null, { renderer: 'canvas' });
chart.setOption({
  animation: false,
  backgroundColor: '#fff',
  grid, xAxis, yAxis, series, graphic
});
</script>
</body>
</html>
